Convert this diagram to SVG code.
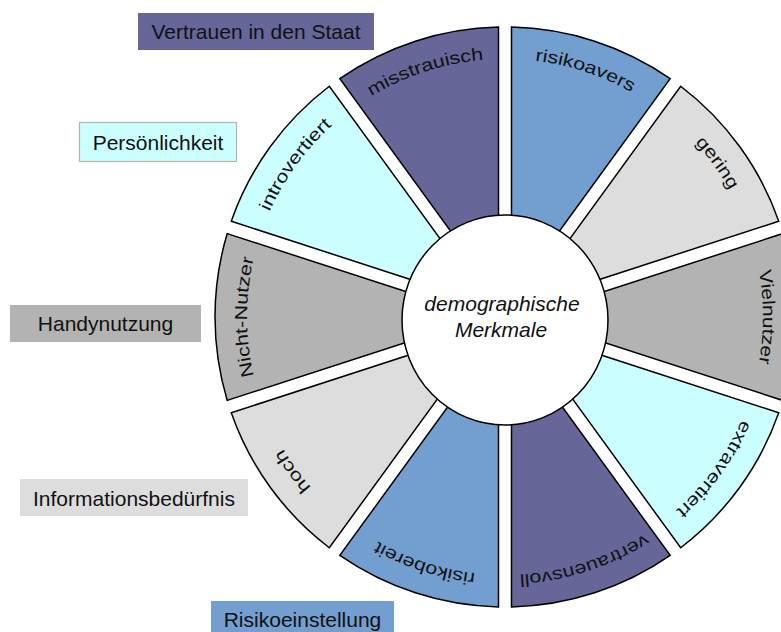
<svg xmlns="http://www.w3.org/2000/svg" width="781" height="632" viewBox="0 0 781 632">
<style>
.seg{stroke:#000;stroke-width:1.5;stroke-linejoin:miter}
.purple{fill:#666699}
.blue{fill:#729fcf}
.lgray{fill:#dddddd}
.gray{fill:#b3b3b3}
.cyan{fill:#ccffff}
.sl{font-family:"Liberation Sans",Arial,sans-serif;font-size:17.5px;fill:#111;text-anchor:middle}
.bl{font-family:"Liberation Sans",Arial,sans-serif;font-size:21px;fill:#111;text-anchor:middle}
.ct{font-family:"Liberation Sans",Arial,sans-serif;font-size:21px;font-style:italic;fill:#111;text-anchor:middle}
</style>
<defs>
<path id="t0" d="M368.28 98.2 A258 258 0 0 1 744.21 220.35"/>
<path id="t1" d="M523 59.63 A258 258 0 0 1 755.34 379.41"/>
<path id="t2" d="M670.84 119.36 A258 258 0 0 1 670.84 514.64"/>
<path id="t3" d="M755.34 254.59 A258 258 0 0 1 523 574.37"/>
<path id="t4" d="M744.21 413.65 A258 258 0 0 1 368.28 535.8"/>
<path id="t5" d="M641.72 535.8 A258 258 0 0 1 265.79 413.65"/>
<path id="t6" d="M487 574.37 A258 258 0 0 1 254.66 254.59"/>
<path id="t7" d="M339.16 514.64 A258 258 0 0 1 339.16 119.36"/>
<path id="t8" d="M254.66 379.41 A258 258 0 0 1 487 59.63"/>
<path id="t9" d="M265.79 220.35 A258 258 0 0 1 641.72 98.2"/>
</defs>
<rect width="781" height="632" fill="#fff"/>

<g id="seg-risikoavers">
<path class="seg blue" d="M511.5 27.07 A290 290 0 0 1 670.16 78.62 L558.4 232.45 A100 100 0 0 0 511.5 217.21 Z"/>
<text class="sl" textLength="102" lengthAdjust="spacingAndGlyphs"><textPath href="#t0" startOffset="50%">risikoavers</textPath></text>
</g>
<g id="seg-gering">
<path class="seg lgray" d="M680.68 86.26 A290 290 0 0 1 778.73 221.23 L597.9 279.98 A100 100 0 0 0 568.92 240.09 Z"/>
<text class="sl" textLength="59" lengthAdjust="spacingAndGlyphs"><textPath href="#t1" startOffset="50%">gering</textPath></text>
</g>
<g id="seg-vielnutzer">
<path class="seg gray" d="M782.75 233.59 A290 290 0 0 1 782.75 400.41 L601.92 341.66 A100 100 0 0 0 601.92 292.34 Z"/>
<text class="sl" textLength="93" lengthAdjust="spacingAndGlyphs"><textPath href="#t2" startOffset="50%">Vielnutzer</textPath></text>
</g>
<g id="seg-extravertiert">
<path class="seg cyan" d="M778.73 412.77 A290 290 0 0 1 680.68 547.74 L568.92 393.91 A100 100 0 0 0 597.9 354.02 Z"/>
<text class="sl" textLength="113" lengthAdjust="spacingAndGlyphs"><textPath href="#t3" startOffset="50%">extravertiert</textPath></text>
</g>
<g id="seg-vertrauensvoll">
<path class="seg purple" d="M670.16 555.38 A290 290 0 0 1 511.5 606.93 L511.5 416.79 A100 100 0 0 0 558.4 401.55 Z"/>
<text class="sl" textLength="133" lengthAdjust="spacingAndGlyphs"><textPath href="#t4" startOffset="50%">vertrauensvoll</textPath></text>
</g>
<g id="seg-risikobereit">
<path class="seg blue" d="M498.5 606.93 A290 290 0 0 1 339.84 555.38 L451.6 401.55 A100 100 0 0 0 498.5 416.79 Z"/>
<text class="sl" textLength="103" lengthAdjust="spacingAndGlyphs"><textPath href="#t5" startOffset="50%">risikobereit</textPath></text>
</g>
<g id="seg-hoch">
<path class="seg lgray" d="M329.32 547.74 A290 290 0 0 1 231.27 412.77 L412.1 354.02 A100 100 0 0 0 441.08 393.91 Z"/>
<text class="sl" textLength="48" lengthAdjust="spacingAndGlyphs"><textPath href="#t6" startOffset="50%">hoch</textPath></text>
</g>
<g id="seg-nicht-nutzer">
<path class="seg gray" d="M227.25 400.41 A290 290 0 0 1 227.25 233.59 L408.08 292.34 A100 100 0 0 0 408.08 341.66 Z"/>
<text class="sl" textLength="119" lengthAdjust="spacingAndGlyphs"><textPath href="#t7" startOffset="50%">Nicht-Nutzer</textPath></text>
</g>
<g id="seg-introvertiert">
<path class="seg cyan" d="M231.27 221.23 A290 290 0 0 1 329.32 86.26 L441.08 240.09 A100 100 0 0 0 412.1 279.98 Z"/>
<text class="sl" textLength="107" lengthAdjust="spacingAndGlyphs"><textPath href="#t8" startOffset="50%">introvertiert</textPath></text>
</g>
<g id="seg-misstrauisch">
<path class="seg purple" d="M339.84 78.62 A290 290 0 0 1 498.5 27.07 L498.5 217.21 A100 100 0 0 0 451.6 232.45 Z"/>
<text class="sl" textLength="119" lengthAdjust="spacingAndGlyphs"><textPath href="#t9" startOffset="50%">misstrauisch</textPath></text>
</g>

<g id="center">
<ellipse cx="505" cy="320" rx="103" ry="105" fill="#fff" stroke="#000" stroke-width="1.5"/>
<text class="ct" x="502" y="311">demographische</text>
<text class="ct" x="501" y="337">Merkmale</text>
</g>

<g id="legend-vertrauen">
<rect x="138" y="13" width="236" height="37" fill="#666699"/>
<text class="bl" x="256" y="38.5">Vertrauen in den Staat</text>
</g>
<g id="legend-persoenlichkeit">
<rect x="79.5" y="122.5" width="157" height="39" fill="#ccffff" stroke="#b3b3b3" stroke-width="1.2"/>
<text class="bl" x="158" y="150">Persönlichkeit</text>
</g>
<g id="legend-handynutzung">
<rect x="10" y="305" width="191" height="37" fill="#b3b3b3"/>
<text class="bl" x="105.5" y="331">Handynutzung</text>
</g>
<g id="legend-informationsbeduerfnis">
<rect x="20" y="479" width="228" height="37" fill="#dddddd"/>
<text class="bl" x="134" y="505.5">Informationsbedürfnis</text>
</g>
<g id="legend-risikoeinstellung">
<rect x="211" y="601" width="183" height="40" fill="#729fcf"/>
<text class="bl" x="302.5" y="627">Risikoeinstellung</text>
</g>
<g id="connectors"/>
</svg>
